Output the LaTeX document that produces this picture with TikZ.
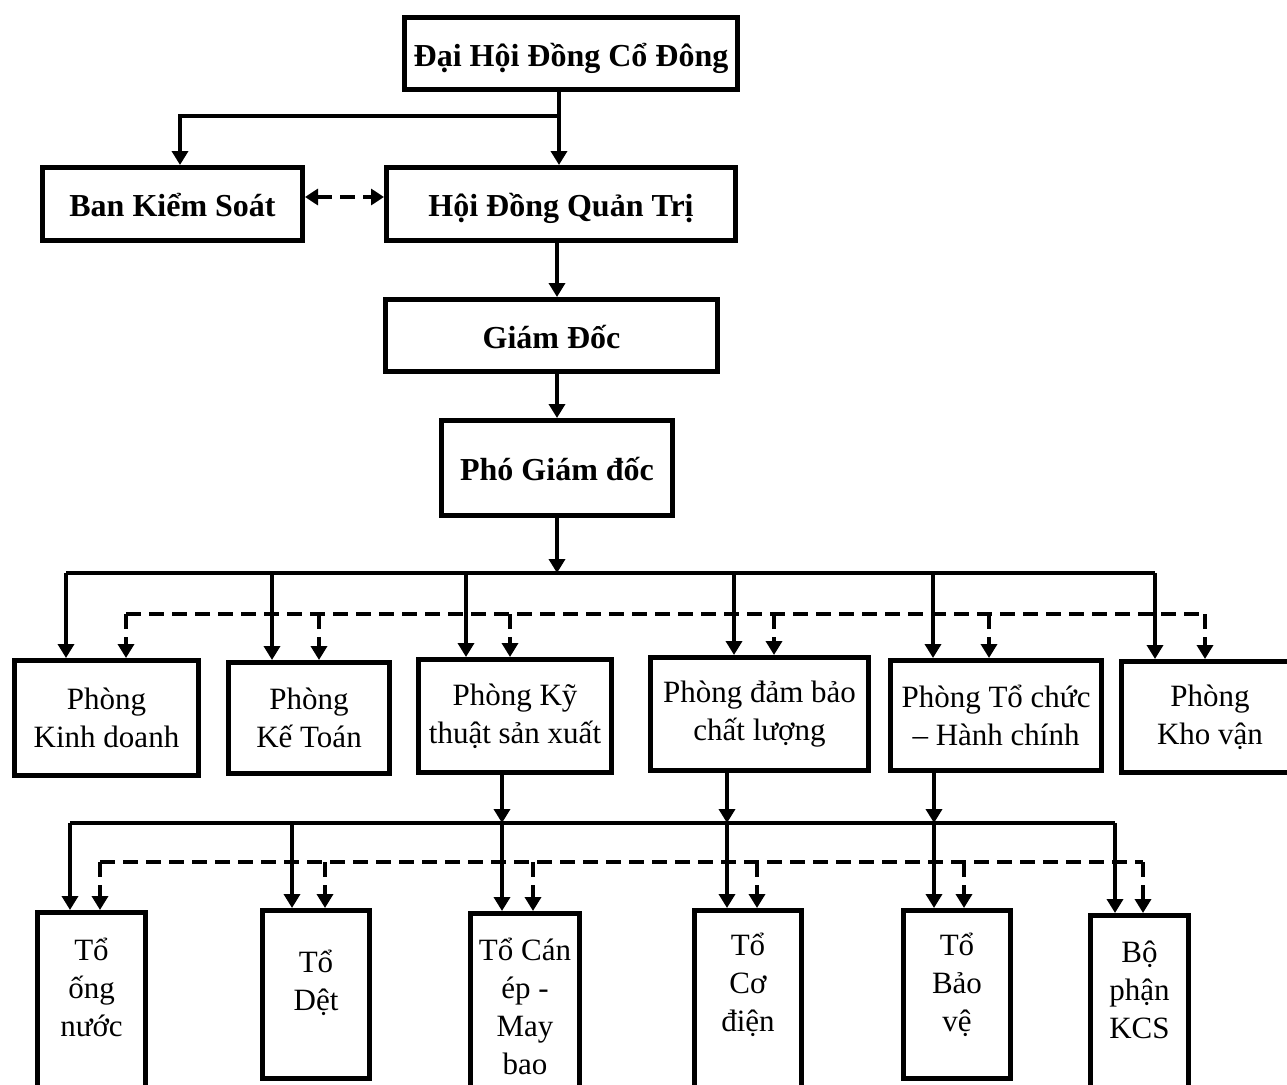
\documentclass[tikz,border=0pt]{standalone}
\usepackage{fontspec}
\setmainfont{Liberation Serif}
\usetikzlibrary{arrows.meta,positioning}

\tikzset{
  hop/.style={draw, line width=5pt, align=center, inner sep=0pt, font=\fontsize{31}{38}\selectfont},
  bhop/.style={hop, text height=31pt, text depth=6pt, font=\fontsize{32}{38}\selectfont\bfseries},
  chu/.style={align=center, inner sep=0pt, font=\fontsize{31}{38}\selectfont},
  ln/.style={line width=4.5pt},
  mui/.style={ln, -{Triangle[length=14pt,width=16pt]}},
  dut/.style={ln, dash pattern=on 15pt off 8pt},
  muidut/.style={dut, -{Triangle[length=14pt,width=16pt]}},
  haimui/.style={dut, {Triangle[length=13pt,width=16pt]}-{Triangle[length=13pt,width=16pt]}}
}

\begin{document}
\begin{tikzpicture}[x=1pt, y=-1pt]
\useasboundingbox (0,0) rectangle (1287,1084);
\fill[white] (0,0) rectangle (1287,1084);

\node[bhop, minimum width=333pt, minimum height=72pt] (dhd) at (571,53.5) {Đại Hội Đồng Cổ Đông};
\node[bhop, minimum width=260pt, minimum height=73pt] (bks) at (172.5,204) {Ban Kiểm Soát};
\node[bhop, minimum width=349pt, minimum height=73pt] (hdqt) at (561,204) {Hội Đồng Quản Trị};
\node[bhop, minimum width=332pt, minimum height=72pt] (gd) at (551.5,335.5) {Giám Đốc};
\node[bhop, minimum width=231pt, minimum height=95pt] (pgd) at (557,468) {Phó Giám đốc};

\node[hop, minimum width=184pt, minimum height=115pt] (kd) at (106.5,718) {Phòng\\Kinh doanh};
\node[hop, minimum width=161pt, minimum height=111pt] (kt) at (309,718) {Phòng\\Kế Toán};
\node[hop, minimum width=193pt, minimum height=113pt] (kyt) at (515,716) {Phòng Kỹ\\thuật sản xuất};
\node[hop, minimum width=218pt, minimum height=113pt] (dbcl) at (759.5,714) {Phòng đảm bảo\\chất lượng};
\node[hop, minimum width=211pt, minimum height=110pt] (tchc) at (996,715.5) {Phòng Tổ chức\\– Hành chính};
\node[hop, minimum width=177pt, minimum height=111pt] (kv) at (1210,717) {Phòng\\Kho vận};

\node[hop, anchor=north, minimum width=108pt, minimum height=200pt] (ong) at (91.5,910) {};
\node[hop, anchor=north, minimum width=107pt, minimum height=168pt] (det) at (316,908) {};
\node[hop, anchor=north, minimum width=109pt, minimum height=200pt] (canep) at (525,911) {};
\node[hop, anchor=north, minimum width=107pt, minimum height=200pt] (codien) at (748,908) {};
\node[hop, anchor=north, minimum width=107pt, minimum height=168pt] (baove) at (957,908) {};
\node[hop, anchor=north, minimum width=98pt, minimum height=200pt] (kcs) at (1139.5,913) {};
\node[chu] (ongchu) at (91.5,987) {Tổ\\ống\\nước};
\node[chu] (detchu) at (316,983) {Tổ\\Dệt};
\node[chu] (canepchu) at (525,1006) {Tổ Cán\\ép -\\May\\bao};
\node[chu] (codienchu) at (748,985) {Tổ\\Cơ\\điện};
\node[chu] (baovechu) at (957,985) {Tổ\\Bảo\\vệ};
\node[chu] (kcschu) at (1139.5,990) {Bộ\\phận\\KCS};

\coordinate (j1) at (559,116);
\draw[ln] (dhd.south -| j1) -- (j1);
\draw[mui] (j1) -| (bks.north -| 180,0);
\draw[mui] (j1) -- (hdqt.north -| j1);
\draw[haimui] ([yshift=7pt]bks.east) -- ([yshift=7pt]hdqt.west);

\coordinate (truc) at (557,0);
\draw[mui] (hdqt.south -| truc) -- (gd.north -| truc);
\draw[mui] (gd.south -| truc) -- (pgd.north -| truc);

\foreach \x/\p [count=\i] in {66/kd, 272/kt, 466/kyt, 734/dbcl, 933/tchc, 1155/kv} {
  \coordinate (a\i) at (\x,573);
  \draw[mui] (a\i) -- (a\i |- \p.north);
}
\draw[ln] (a1) -- (a6);
\draw[mui] (pgd.south -| truc) -- (truc |- a1);
\foreach \x/\p [count=\i] in {126/kd, 319/kt, 510/kyt, 774/dbcl, 989/tchc, 1205/kv} {
  \coordinate (b\i) at (\x,614);
  \draw[muidut] (b\i) -- (b\i |- \p.north);
}
\draw[dut] (b1) -- (b6);

\foreach \x/\p [count=\i] in {70/ong, 292/det, 502/canep, 727/codien, 934/baove, 1115/kcs} {
  \coordinate (c\i) at (\x,823);
  \draw[mui] (c\i) -- (c\i |- \p.north);
}
\draw[ln] (c1) -- (c6);
\draw[mui] (kyt.south -| c3) -- (c3);
\draw[mui] (dbcl.south -| c4) -- (c4);
\draw[mui] (tchc.south -| c5) -- (c5);
\foreach \x/\p [count=\i] in {100/ong, 325/det, 533/canep, 757/codien, 964/baove, 1143/kcs} {
  \coordinate (d\i) at (\x,862);
  \draw[muidut] (d\i) -- (d\i |- \p.north);
}
\draw[dut] (d1) -- (d6);
\end{tikzpicture}
\end{document}
